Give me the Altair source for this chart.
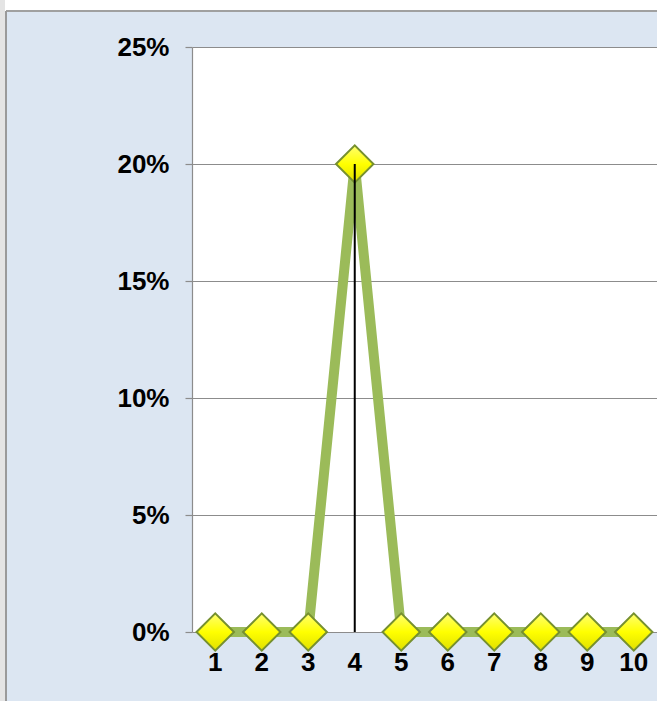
import altair as alt
import pandas as pd

categories = ["1", "2", "3", "4", "5", "6", "7", "8", "9", "10"]
values = [0, 0, 0, 0.20, 0, 0, 0, 0, 0, 0]
y_ticks = [0, 0.05, 0.10, 0.15, 0.20, 0.25]

df = pd.DataFrame({"cat": categories, "val": values})
peak = df[df["val"] == df["val"].max()].assign(base=0)

xenc = alt.X("cat:N", sort=categories,
             scale=alt.Scale(type="band", paddingInner=0, paddingOuter=0),
             axis=alt.Axis(title=None, labelAngle=0, ticks=False, domain=False,
                           labelFont="Liberation Sans", labelFontWeight="bold",
                           labelFontSize=26, labelColor="black", labelPadding=17,
                           grid=False))
yenc = alt.Y("val:Q", scale=alt.Scale(domain=[0, 0.25], nice=False),
             axis=alt.Axis(title=None, format=".0%", values=y_ticks,
                           labelFont="Liberation Sans", labelFontWeight="bold",
                           labelFontSize=26, labelColor="black", labelPadding=16,
                           tickSize=7, tickColor="#8c8c8c", domainColor="#8c8c8c",
                           grid=True, gridColor="#8c8c8c", gridWidth=1.2,
                           domainWidth=1.2, tickWidth=1.2))

diamond_fill = alt.LinearGradient(
    gradient="linear", x1=0, y1=0, x2=0, y2=1,
    stops=[alt.GradientStop(offset=0, color="#ffff70"),
           alt.GradientStop(offset=0.5, color="#ffff00"),
           alt.GradientStop(offset=1, color="#e0e000")])

base = alt.Chart(df)
line = base.mark_line(color="#9bbb59", strokeWidth=10, strokeJoin="miter").encode(x=xenc, y=yenc)
pts = base.mark_point(shape="diamond", filled=True, size=1400, fill=diamond_fill,
                      stroke="#76902f", strokeWidth=2, opacity=1).encode(x=xenc, y=yenc)
drop = alt.Chart(peak).mark_rule(color="black", strokeWidth=2).encode(
    x=alt.X("cat:N", sort=categories), y="val:Q", y2="base:Q")

dummy = alt.Chart(pd.DataFrame({"a": [0]}))
top_white = dummy.mark_rect(color="white", clip=False).encode(
    x=alt.value(-192), x2=alt.value(465), y=alt.value(-47), y2=alt.value(-36))
top_line = dummy.mark_rule(color="#a0a0a0", strokeWidth=2, clip=False).encode(
    x=alt.value(-186), x2=alt.value(465), y=alt.value(-36))
left_strip = dummy.mark_rect(color="#e4e4e4", clip=False).encode(
    x=alt.value(-192), x2=alt.value(-187), y=alt.value(-47), y2=alt.value(654))
left_line = dummy.mark_rule(color="#9a9a9a", strokeWidth=2, clip=False).encode(
    x=alt.value(-186), y=alt.value(-36), y2=alt.value(654))

chart = alt.layer(line, pts, drop, top_white, top_line, left_strip, left_line).properties(
    width=465, height=585,
    padding={"left": 192, "top": 47, "right": 0, "bottom": 69},
    autosize="none",
    background="#dce6f2",
).configure_view(fill="white", stroke=None)

chart.save("out.html", embed_options={"renderer": "svg", "actions": False})
